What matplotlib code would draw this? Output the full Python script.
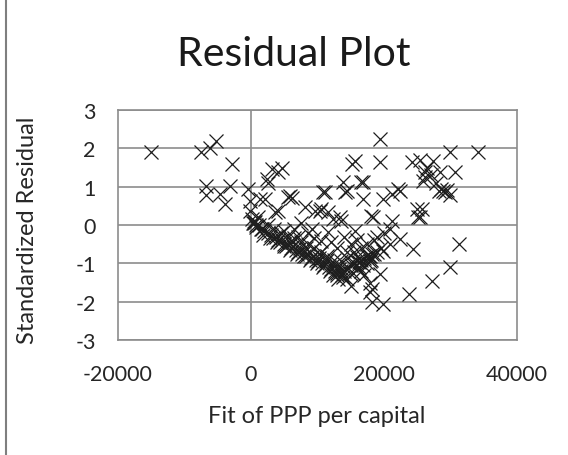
import matplotlib
matplotlib.use("Agg")
import matplotlib.pyplot as plt
from matplotlib.lines import Line2D

plt.rcParams['font.family'] = ['Lato', 'DejaVu Sans']
plt.rcParams['axes.unicode_minus'] = False

title = "Residual Plot"
x_label = "Fit of PPP per capital"
y_label = "Standardized Residual"
x_ticks = [-20000, 0, 20000, 40000]
y_ticks = [-3, -2, -1, 0, 1, 2, 3]

# Fitted values (x) and standardized residuals (y)
fit_left = [-15000, -7500, -6200, -5300, -2900, -6800, -6800, -4700, -3200, -3900,
            -450, -150, -150, 100, 300, 500, 700]
res_left = [1.90, 1.91, 2.02, 2.20, 1.60, 1.03, 0.78, 0.80, 1.02, 0.55,
            0.94, 0.63, 0.37, 0.15, 0.05, 0.10, 0.00]

fit_upmid = [2400, 2600, 3100, 4100, 4600, 1350, 2100, 5600, 5800, 6100,
             10900, 11100, 4100, 3600, 8100, 9600, 10400, 11600, 10600, 13600,
             18100, 600, 1600, 9100, 11600, 10600]
res_upmid = [1.20, 1.10, 1.46, 1.38, 1.50, 0.68, 0.68, 0.72, 0.75, 0.70,
             0.85, 0.85, 0.37, 0.33, 0.46, 0.37, 0.37, 0.33, 0.42, 0.11,
             0.24, 0.07, -0.10, -0.10, -0.19, -0.41]

fit_right = [19400, 15200, 15600, 19400, 24200, 25400, 25900, 26200, 13800, 16800,
             14400, 14100, 16800, 22100, 22400, 19800, 21200, 24900, 25100, 13400,
             12300, 18300, 21200, 16600, 29900, 34200, 27400, 28400, 30700, 26200,
             28900, 28600, 29200, 28200, 29500, 29900, 25700, 25400, 31300, 29900,
             27200, 26500, 27000, 27800]
res_right = [2.25, 1.60, 1.66, 1.64, 1.64, 1.70, 1.16, 1.25, 1.12, 1.12,
             0.90, 0.85, 0.68, 0.94, 0.90, 0.68, 0.81, 0.42, 0.20, 0.20,
             0.16, 0.20, 0.11, 1.11, 1.91, 1.91, 1.68, 1.38, 1.38, 1.38,
             0.90, 0.95, 0.85, 0.88, 0.92, 0.77, 0.42, 0.20, -0.50, -1.10,
             -1.45, 1.50, 1.30, 1.10]

fit_lowmid = [15600, 20900, 22400, 24400, 20900, 19900, 17900, 18200, 15900, 12900,
              19400, 17900, 15100, 23700, 17900, 18200, 19900, 17400, 16200, 17700,
              18200, 16500, 14500, 17000]
res_lowmid = [-0.15, -0.10, -0.37, -0.63, -0.50, -0.67, -0.80, -0.75, -0.84, -1.10,
              -1.28, -1.50, -1.58, -1.80, -1.76, -2.02, -2.06, -1.00, -0.97, -0.80,
              -1.67, -1.20, -1.40, -1.30]

fit_band = [500, 800, 1200, 1500, 2000, 2500, 3000, 3300, 3700, 4000,
            4300, 4700, 5000, 5300, 5600, 6000, 6300, 6700, 7000, 7300,
            7600, 8000, 8300, 8600, 9000, 9300, 9700, 10000, 10300, 10700,
            11000, 11300, 11700, 12000, 12300, 12700, 13000, 13300, 13700, 14000,
            14500, 15000, 15500, 16000, 16500, 17000, 17500, 18000, 18500, 19000,
            19500]
res_band = [0.05, -0.05, 0.00, -0.10, -0.15, -0.20, -0.25, -0.35, -0.30, -0.40,
            -0.45, -0.40, -0.50, -0.55, -0.50, -0.60, -0.55, -0.65, -0.70, -0.60,
            -0.75, -0.70, -0.80, -0.75, -0.85, -0.80, -0.90, -0.95, -0.85, -1.00,
            -1.05, -0.95, -1.10, -1.15, -1.05, -1.20, -1.25, -1.15, -1.30, -1.20,
            -1.10, -1.05, -1.00, -0.95, -0.90, -0.85, -0.80, -0.90, -0.75, -0.70,
            -0.60]

fit_band2 = [1000, 2500, 3500, 4500, 5500, 6500, 7500, 8500, 9500, 10500,
             11500, 12500, 13500, 14500, 15500, 16500, 17500, 18500]
res_band2 = [0.20, 0.00, -0.10, -0.20, -0.30, -0.35, -0.45, -0.50, -0.60, -0.70,
             -0.80, -0.90, -0.95, -0.85, -0.70, -0.60, -0.50, -0.40]

fit_band3 = [1800, 2800, 3900, 4900, 5900, 6900, 7900, 8900, 9900, 10900,
             11900, 12900, 13900, 14900, 15900, 16900, 17900, 12400, 13100, 13600,
             8200, 6200, 10200, 11400, 15300, 16300]
res_band3 = [-0.25, -0.35, -0.45, -0.55, -0.65, -0.75, -0.80, -0.90, -1.00, -1.10,
             -1.20, -1.30, -1.35, -1.25, -1.15, -1.05, -0.95, -1.30, -1.40, -1.20,
             -0.60, -0.45, -0.75, -0.90, -1.25, -1.10]

fit_scatter = [6500, 7500, 8500, 5000, 7000, 9500, 12000, 13000, 14000, 15000,
               16000, 14500, 19000, 20000]
res_scatter = [-0.10, 0.05, -0.20, -0.15, -0.30, -0.35, -0.45, -0.60, -0.30, -0.50,
               -0.40, -0.70, -0.30, -0.20]

fits = (fit_left + fit_upmid + fit_right + fit_lowmid + fit_band + fit_band2
        + fit_band3 + fit_scatter)
resids = (res_left + res_upmid + res_right + res_lowmid + res_band + res_band2
          + res_band3 + res_scatter)

W, H = 568, 456
fig = plt.figure(figsize=(W / 100, H / 100), dpi=100)
fig.patch.set_facecolor('white')

ax = fig.add_axes([118 / W, 1 - 341 / H, (517 - 118) / W, (341 - 111) / H])
grid_c = '#8c8c8c'
for s in ax.spines.values():
    s.set_color(grid_c)
    s.set_linewidth(1.2)
ax.set_xlim(-20000, 40000)
ax.set_ylim(-3, 3)
ax.set_xticks(x_ticks)
ax.set_yticks(y_ticks)
ax.set_xticklabels([str(v) for v in x_ticks])
ax.set_yticklabels([str(v) for v in y_ticks])
ax.tick_params(length=0, labelsize=15.5, colors='#262626')
ax.tick_params(axis='y', pad=16)
ax.tick_params(axis='x', pad=17)
for yv in y_ticks:
    ax.axhline(yv, color=grid_c, lw=1.2, zorder=1)
ax.axvline(0, color=grid_c, lw=1.2, zorder=1)

ax.plot(fits, resids, linestyle='none', marker='x', markersize=10,
        markeredgewidth=0.9, color='#1e1e1e', zorder=3)

fig.text(294 / W, 1 - 55 / H, title, ha='center', va='center', fontsize=29.5, color='#1a1a1a')
fig.text(317 / W, 1 - 417 / H, x_label, ha='center', va='center', fontsize=17, color='#262626')
fig.text(28 / W, 1 - 230 / H, y_label, ha='center', va='center', rotation=90,
         fontsize=17, color='#262626')

fig.add_artist(Line2D([6 / W, 6 / W], [0, 1], transform=fig.transFigure,
                      color='#7f7f7f', lw=1.5))

fig.savefig('out.png', dpi=100)
